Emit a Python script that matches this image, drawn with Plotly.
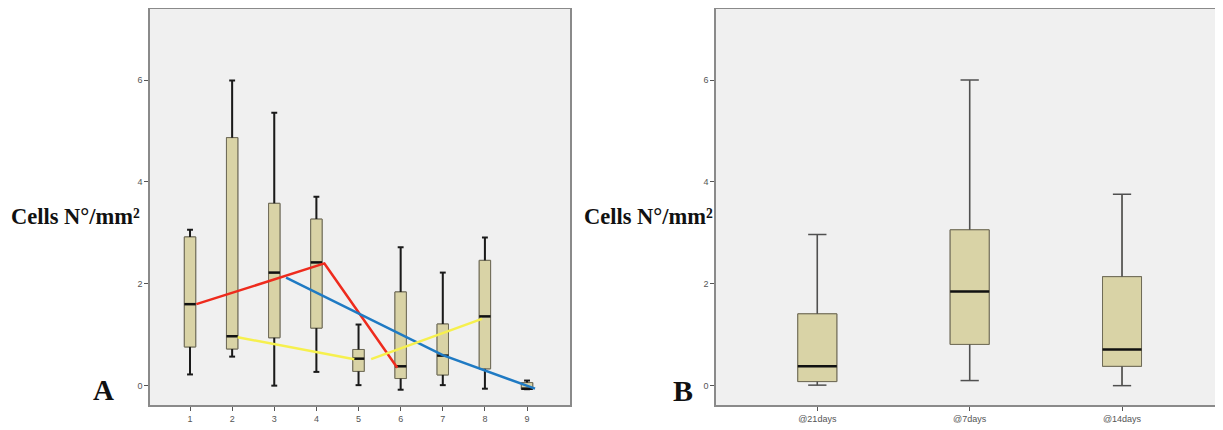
import plotly.graph_objects as go

# ---- Data: panel A (groups 1-9) ----
a_cats = [1, 2, 3, 4, 5, 6, 7, 8, 9]
a_lower = [0.22, 0.57, 0.00, 0.27, 0.01, -0.08, 0.01, -0.06, -0.07]
a_q1 = [0.76, 0.72, 0.94, 1.13, 0.28, 0.14, 0.21, 0.33, -0.07]
a_median = [1.60, 0.97, 2.22, 2.42, 0.53, 0.38, 0.59, 1.36, -0.06]
a_q3 = [2.92, 4.87, 3.58, 3.27, 0.71, 1.84, 1.21, 2.46, 0.06]
a_upper = [3.06, 5.99, 5.36, 3.71, 1.20, 2.72, 2.22, 2.91, 0.10]

red_x = [1.15, 4.19, 5.92]
red_y = [1.60, 2.40, 0.35]
blue_x = [3.28, 7.00, 9.19]
blue_y = [2.12, 0.60, -0.06]
yellow_x = [2.13, 4.90, None, 5.30, 7.93]
yellow_y = [0.95, 0.52, None, 0.52, 1.31]

# ---- Data: panel B ----
b_labels = ["@21days", "@7days", "@14days"]
b_pos = [1, 2, 3]
b_lower = [0.01, 0.10, 0.00]
b_q1 = [0.08, 0.81, 0.38]
b_median = [0.38, 1.85, 0.71]
b_q3 = [1.41, 3.06, 2.14]
b_upper = [2.97, 6.00, 3.76]

y_ticks = [0, 2, 4, 6]

BOX_FILL = "#d9d3a6"
BOX_LINE = "#6f6b58"
W, H = 1223, 430
OFF = 8  # page body margin


def px_x(p):
    return (p - OFF) / W


def px_y(p):
    return 1 - (p - OFF) / H


fig = go.Figure()


def add_panel(xs, lo, q1, med, q3, up, xa, ya, bw, capw, wcol, wwid):
    fig.add_trace(go.Box(
        x=xs, lowerfence=lo, q1=q1, median=med, q3=q3, upperfence=up,
        width=bw, whiskerwidth=0, fillcolor=BOX_FILL,
        line=dict(color=BOX_LINE, width=1), boxpoints=False,
        xaxis=xa, yaxis=ya, showlegend=False, hoverinfo="skip"))
    wx, wy = [], []
    for c, l, a, b, u in zip(xs, lo, q1, q3, up):
        wx += [c, c, None, c, c, None, c - capw / 2, c + capw / 2, None, c - capw / 2, c + capw / 2, None]
        wy += [b, u, None, l, a, None, u, u, None, l, l, None]
    fig.add_trace(go.Scatter(x=wx, y=wy, mode="lines", line=dict(color=wcol, width=wwid),
                             xaxis=xa, yaxis=ya, showlegend=False, hoverinfo="skip"))
    fig.add_trace(go.Box(
        x=xs, lowerfence=q1, q1=q1, median=med, q3=q3, upperfence=q3,
        width=bw, whiskerwidth=0, fillcolor=BOX_FILL,
        line=dict(color=BOX_LINE, width=1), boxpoints=False,
        xaxis=xa, yaxis=ya, showlegend=False, hoverinfo="skip"))
    mx, my = [], []
    for c, m in zip(xs, med):
        mx += [c - bw / 2, c + bw / 2, None]
        my += [m, m, None]
    fig.add_trace(go.Scatter(x=mx, y=my, mode="lines", line=dict(color="#111111", width=2.5),
                             xaxis=xa, yaxis=ya, showlegend=False, hoverinfo="skip"))


add_panel(a_cats, a_lower, a_q1, a_median, a_q3, a_upper, "x", "y", 0.27, 0.14, "#1a1a1a", 2)
add_panel(b_pos, b_lower, b_q1, b_median, b_q3, b_upper, "x2", "y2", 0.256, 0.12, "#505050", 1.5)

for xs, ys, col in [(red_x, red_y, "#ee2b1d"), (blue_x, blue_y, "#1f7ac3"), (yellow_x, yellow_y, "#f6f04e")]:
    fig.add_trace(go.Scatter(x=xs, y=ys, mode="lines", line=dict(color=col, width=2.5),
                             xaxis="x", yaxis="y", showlegend=False, hoverinfo="skip", connectgaps=False))

tickfont = dict(family="Liberation Sans, Arial, sans-serif", size=9, color="#555555")
axis_common = dict(showgrid=False, zeroline=False, showline=True, linecolor="#8a8a8a", linewidth=1.5,
                   mirror=True, ticks="outside", ticklen=4, tickcolor="#555555", tickfont=tickfont)

ydom = [px_y(405), px_y(8.8)]
fig.update_layout(
    width=W, height=H,
    margin=dict(l=0, r=0, t=0, b=0, autoexpand=False),
    paper_bgcolor="white", plot_bgcolor="#f0f0f0",
    xaxis=dict(domain=[px_x(150), px_x(570)], range=[0.05, 10.02], tickvals=a_cats,
               ticktext=[str(c) for c in a_cats], **axis_common),
    yaxis=dict(domain=ydom, range=[-0.38, 7.40], tickvals=y_ticks,
               ticktext=[str(t) for t in y_ticks], **axis_common),
    xaxis2=dict(domain=[px_x(716), px_x(1218)], range=[0.335, 3.63], tickvals=b_pos,
                ticktext=b_labels, anchor="y2", **axis_common),
    yaxis2=dict(domain=ydom, range=[-0.38, 7.40], tickvals=y_ticks,
                ticktext=[str(t) for t in y_ticks], anchor="x2", **axis_common),
)

serif = "Liberation Serif, Times New Roman, serif"
fig.add_annotation(x=px_x(9), y=px_y(217), xref="paper", yref="paper", xanchor="left", yanchor="middle",
                   text="<b>Cells N°/mm²</b>", showarrow=False, font=dict(family=serif, size=22.5, color="#111"))
fig.add_annotation(x=px_x(582), y=px_y(217), xref="paper", yref="paper", xanchor="left", yanchor="middle",
                   text="<b>Cells N°/mm²</b>", showarrow=False, font=dict(family=serif, size=22.5, color="#111"))
fig.add_annotation(x=px_x(91), y=px_y(390), xref="paper", yref="paper", xanchor="left", yanchor="middle",
                   text="<b>A</b>", showarrow=False, font=dict(family=serif, size=29, color="#111"))
fig.add_annotation(x=px_x(671), y=px_y(390), xref="paper", yref="paper", xanchor="left", yanchor="middle",
                   text="<b>B</b>", showarrow=False, font=dict(family=serif, size=30, color="#111"))

fig.write_html("out.html")
